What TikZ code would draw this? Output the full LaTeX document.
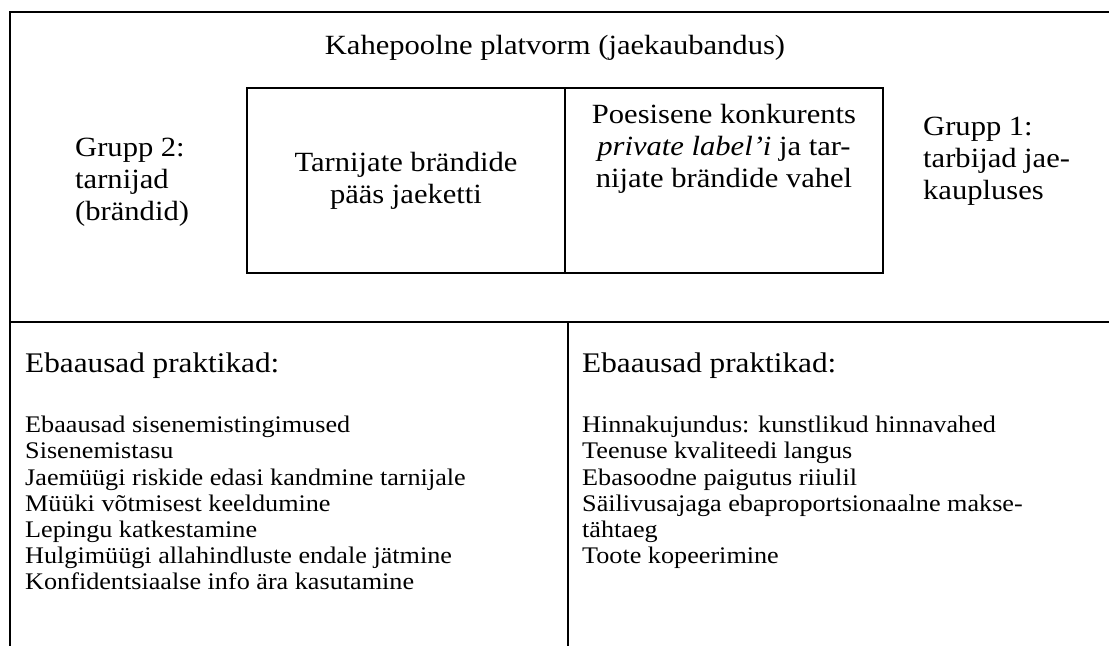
\documentclass[tikz,border=0pt]{standalone}
\usepackage{fontspec}
\setmainfont[FakeStretch=1.1]{Liberation Serif}
\usetikzlibrary{positioning}

\begin{document}
\begin{tikzpicture}[x=1pt,y=-1pt,
    frame/.style={line width=2.4pt},
    boxline/.style={line width=1.6pt},
    bigtext/.style={font=\fontsize{27.8}{32}\selectfont,inner sep=0pt},
    listtext/.style={font=\fontsize{23.8}{26.2}\selectfont,inner sep=0pt,align=left,anchor=north west}]
    \useasboundingbox (0,0) rectangle (1109,646);

    % Draw outer frame (open on the right)
    \draw[frame] (1109,12) -- (10,12) -- (10,646);
    \draw[frame] (10,322) -- (1109,322);
    \draw[frame] (568,322) -- (568,646);

    % Draw platform boxes
    \coordinate (A) at (247,88);
    \coordinate (B) at (565,273);
    \coordinate (C) at (883,88);
    \draw[boxline] (A) rectangle (B);
    \draw[boxline] (B) rectangle (C);
    \draw[line width=2.6pt] (565,88) -- (B);

    % Title and groups
    \node[bigtext] (platform) at (555,48) {Kahepoolne platvorm (jaekaubandus)};
    \node[bigtext,align=left,anchor=west] (grupp2) at (75,182) {Grupp 2:\\tarnijad\\(brändid)};
    \node[bigtext,align=left,anchor=west] (grupp1) at (923,161) {Grupp 1:\\tarbijad jae-\\kaupluses};
    \node[bigtext,align=center] (access) at (406,181) {Tarnijate brändide\\pääs jaeketti};
    \node[bigtext,align=center,anchor=north] (compete) at (724,104) {Poesisene konkurents\\\textit{private label'i} ja tar-\\nijate brändide vahel};

    % Unfair practices, supplier side
    \node[bigtext,anchor=west,font=\fontsize{28.4}{32}\selectfont] (headL) at (25,366) {Ebaausad praktikad:};
    \node[listtext] (listL) at (25,416) {Ebaausad sisenemistingimused\\
        Sisenemistasu\\
        Jaemüügi riskide edasi kandmine tarnijale\\
        Müüki võtmisest keeldumine\\
        Lepingu katkestamine\\
        Hulgimüügi allahindluste endale jätmine\\
        Konfidentsiaalse info ära kasutamine};

    % Unfair practices, consumer side
    \node[bigtext,anchor=west,font=\fontsize{28.4}{32}\selectfont] (headR) at (582,366) {Ebaausad praktikad:};
    \node[listtext] (listR) at (582,416) {Hinnakujundus: kunstlikud hinnavahed\\
        Teenuse kvaliteedi langus\\
        Ebasoodne paigutus riiulil\\
        Säilivusajaga ebaproportsionaalne makse-\\
        tähtaeg\\
        Toote kopeerimine};
\end{tikzpicture}
\end{document}
